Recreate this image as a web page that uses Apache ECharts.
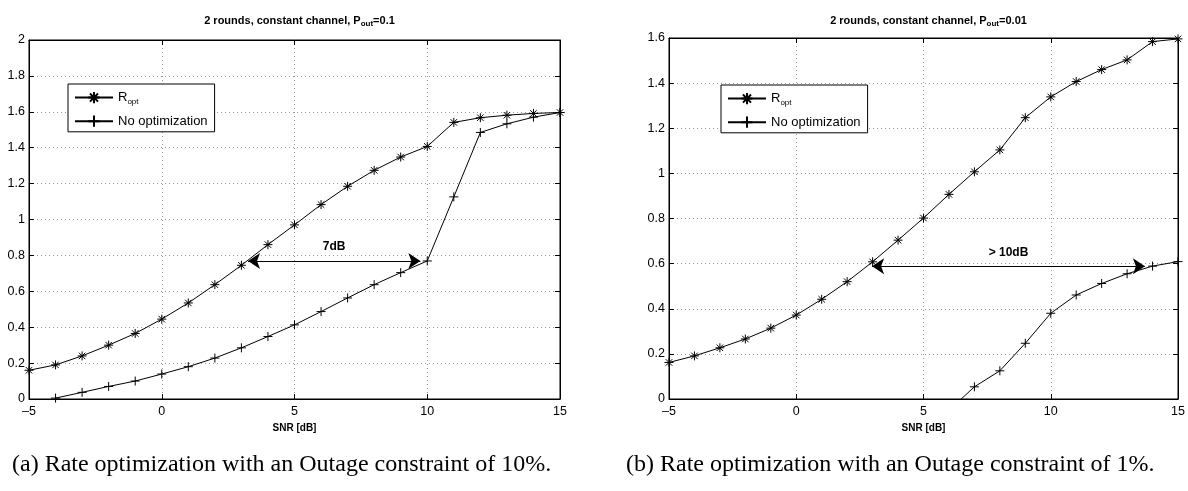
<!DOCTYPE html>
<html>
<head>
<meta charset="utf-8">
<script src="https://cdn.jsdelivr.net/npm/echarts@6/dist/echarts.min.js"></script>
<style>
html,body{margin:0;padding:0;background:#fff;}
#chart{width:1188px;height:491px;}
</style>
</head>
<body>
<div id="chart"></div>
<script>
// ---- data ----
const snr = [-5,-4,-3,-2,-1,0,1,2,3,4,5,6,7,8,9,10,11,12,13,14,15];
const leftOpt   = [0.16,0.19,0.24,0.30,0.365,0.445,0.535,0.637,0.745,0.86,0.97,1.083,1.185,1.274,1.348,1.407,1.541,1.567,1.581,1.591,1.596];
const leftNoOpt = [null,0.005,0.037,0.07,0.10,0.139,0.18,0.228,0.285,0.348,0.413,0.487,0.563,0.637,0.704,0.769,1.126,1.485,1.533,1.57,1.596];
const rightOpt  = [0.162,0.191,0.227,0.266,0.314,0.372,0.442,0.52,0.608,0.704,0.802,0.907,1.007,1.104,1.247,1.339,1.407,1.46,1.503,1.584,1.596];
const rightNoOpt= [null,null,null,null,null,null,null,null,null,null,null,-0.05,0.054,0.125,0.247,0.38,0.461,0.512,0.555,0.589,0.609];
const leftArrow  = [[3.25,0.769],[9.74,0.769]];
const rightArrow = [[2.98,0.588],[13.7,0.588]];
const leftArrowLabel = '7dB';
const rightArrowLabel = '> 10dB';
const titles = ['2 rounds, constant channel, P{sub|out}=0.1','2 rounds, constant channel, P{sub|out}=0.01'];
const captions = ['(a) Rate optimization with an Outage constraint of 10%.','(b) Rate optimization with an Outage constraint of 1%.'];
const seriesNames = ['R_opt','No optimization'];
const xLabel = 'SNR [dB]';
const xRange = [-5,15,5];
const yRanges = [[0,2,0.2],[0,1.6,0.2]];

// ---- layout ----
const grids = [
  {left:29, top:40, width:531, height:359},
  {left:669, top:38, width:509, height:361}
];
const FONT = 'Liberation Sans, Arial, Helvetica, sans-serif';
const star = 'path://M0,-5L0,5M-5,0L5,0M-3.6,-3.6L3.6,3.6M-3.6,3.6L3.6,-3.6';
const plus = 'path://M0,-5L0,5M-5,0L5,0';
const pairs = ys => snr.map((x,i)=>[x, ys[i]]);
const fmtX = v => v < 0 ? '\u2013' + (-v) : String(v);

const xAxes = [], yAxes = [];
grids.forEach((g,i)=>{
  xAxes.push({
    type:'value', gridIndex:i, min:xRange[0], max:xRange[1], interval:xRange[2],
    name:xLabel, nameLocation:'middle', nameGap:16,
    nameTextStyle:{fontFamily:FONT, fontWeight:'bold', fontSize:10, color:'#000'},
    axisLine:{onZero:false, lineStyle:{color:'#000', width:1}},
    axisTick:{inside:true, length:5, lineStyle:{color:'#000'}},
    axisLabel:{fontFamily:FONT, fontSize:12.5, color:'#000', margin:6, formatter:fmtX},
    splitLine:{show:true, lineStyle:{color:'#999', type:[1,3], width:1}}
  });
  xAxes.push({
    type:'value', gridIndex:i, position:'top', min:xRange[0], max:xRange[1], interval:xRange[2],
    axisLine:{onZero:false, lineStyle:{color:'#000'}},
    axisTick:{inside:true, length:5, lineStyle:{color:'#000'}},
    axisLabel:{show:false}, splitLine:{show:false}
  });
  yAxes.push({
    type:'value', gridIndex:i, min:yRanges[i][0], max:yRanges[i][1], interval:yRanges[i][2],
    axisLine:{onZero:false, lineStyle:{color:'#000', width:1}},
    axisTick:{inside:true, length:5, lineStyle:{color:'#000'}},
    axisLabel:{fontFamily:FONT, fontSize:12.5, color:'#000', margin:4},
    splitLine:{show:true, lineStyle:{color:'#999', type:[1,3], width:1}}
  });
  yAxes.push({
    type:'value', gridIndex:i, position:'right', min:yRanges[i][0], max:yRanges[i][1], interval:yRanges[i][2],
    axisLine:{onZero:false, lineStyle:{color:'#000'}},
    axisTick:{inside:true, length:5, lineStyle:{color:'#000'}},
    axisLabel:{show:false}, splitLine:{show:false}
  });
});

function arrowMark(a, label){
  return {
    silent:true, symbol:['arrow','arrow'], symbolSize:12,
    lineStyle:{color:'#000', width:1.2, type:'solid'},
    label:{show:true, position:'middle', formatter:label, fontFamily:FONT, fontWeight:'bold', fontSize:12, color:'#000', distance:8},
    emphasis:{disabled:true},
    data:[[{coord:a[0]},{coord:a[1]}]]
  };
}
function mkSeries(name, ys, gi, sym, mark){
  const s = {
    name, type:'line', xAxisIndex:gi*2, yAxisIndex:gi*2, data:pairs(ys),
    symbol:sym, symbolSize:9, showAllSymbol:true, clip:true, animation:false,
    lineStyle:{color:'#000', width:1},
    itemStyle:{color:'#000', borderColor:'#000', borderWidth:1},
    emphasis:{disabled:true}
  };
  if (mark) s.markLine = mark;
  return s;
}
const series = [
  mkSeries(seriesNames[0], leftOpt, 0, star, arrowMark(leftArrow, leftArrowLabel)),
  mkSeries(seriesNames[1], leftNoOpt, 0, plus),
  mkSeries(seriesNames[0], rightOpt, 1, star, arrowMark(rightArrow, rightArrowLabel)),
  mkSeries(seriesNames[1], rightNoOpt, 1, plus)
];

const subRich = {sub:{fontSize:8, fontFamily:FONT, color:'#000', padding:[8,0,0,0]}};
const titleRich = {sub:{fontSize:8, fontWeight:'bold', fontFamily:FONT, color:'#000', padding:[7,0,0,0]}};

function mkLegend(left, top){
  return {
    data:seriesNames, left, top, orient:'vertical', selectedMode:false,
    backgroundColor:'#fff', borderColor:'#000', borderWidth:1, borderRadius:0,
    padding:[7,7,4,6], itemGap:9, itemWidth:38, itemHeight:14,
    textStyle:{fontFamily:FONT, fontSize:13, color:'#000', rich:subRich},
    formatter: n => n === 'R_opt' ? 'R{sub|opt}' : n
  };
}

const option = {
  animation:false,
  backgroundColor:'#fff',
  title: titles.map((t,i)=>({
    text:t, left:grids[i].left + grids[i].width/2, top:8, textAlign:'center',
    textStyle:{fontFamily:FONT, fontWeight:'bold', fontSize:11, color:'#000', rich:titleRich}
  })),
  legend:[mkLegend(68,84), mkLegend(721,85)],
  grid: grids.map(g=>Object.assign({show:true, borderColor:'#000', borderWidth:1, backgroundColor:'#fff'}, g)),
  xAxis:xAxes, yAxis:yAxes, series,
  graphic:[
    {type:'text', left:12, top:453, style:{text:captions[0], font:'24px "Liberation Serif", "Times New Roman", serif', fill:'#000'}},
    {type:'text', left:626, top:453, style:{text:captions[1], font:'24px "Liberation Serif", "Times New Roman", serif', fill:'#000'}}
  ]
};
const chart = echarts.init(document.getElementById('chart'), null, {renderer:'canvas'});
chart.setOption(option);
</script>
</body>
</html>
